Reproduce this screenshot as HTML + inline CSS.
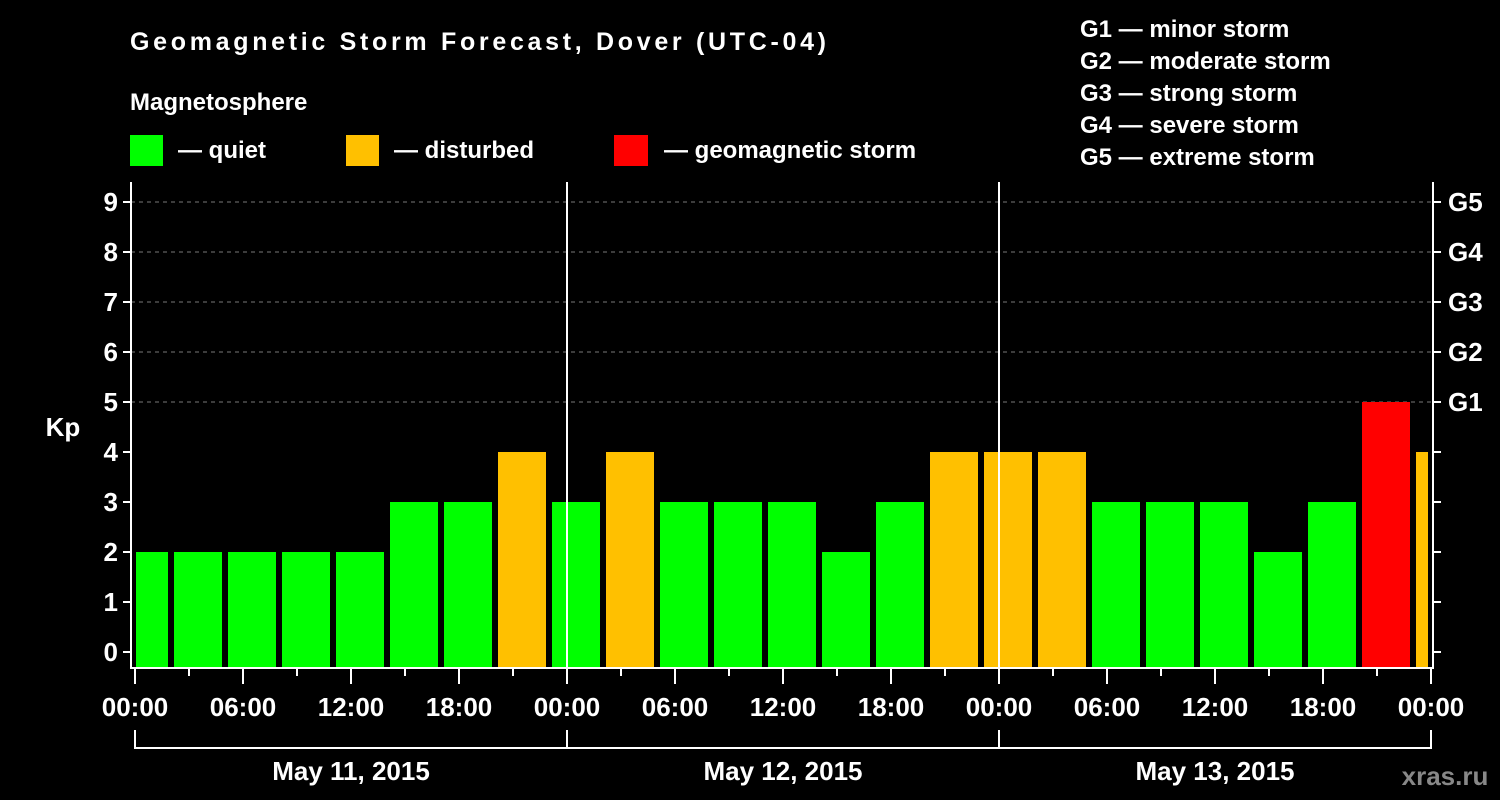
<!DOCTYPE html>
<html><head><meta charset="utf-8"><style>
html,body{margin:0;padding:0;background:#000;}
svg{display:block;font-family:"Liberation Sans",Arial,sans-serif;font-weight:bold;}
</style></head><body>
<svg id="chart" width="1500" height="800" viewBox="0 0 1500 800">
<rect width="1500" height="800" fill="#000"/>
<text x="130" y="50" fill="#fff" font-size="25" textLength="696">Geomagnetic Storm Forecast, Dover (UTC-04)</text>
<text x="130" y="110" fill="#fff" font-size="24">Magnetosphere</text>
<g><rect x="130" y="135" width="33" height="31" fill="#00ff00"/><text x="178" y="158" fill="#fff" font-size="24">— quiet</text></g>
<g><rect x="346" y="135" width="33" height="31" fill="#ffc000"/><text x="394" y="158" fill="#fff" font-size="24">— disturbed</text></g>
<g><rect x="614" y="135" width="34" height="31" fill="#ff0000"/><text x="664" y="158" fill="#fff" font-size="24">— geomagnetic storm</text></g>
<g fill="#fff" font-size="24">
<text x="1080" y="37">G1 — minor storm</text>
<text x="1080" y="69">G2 — moderate storm</text>
<text x="1080" y="101">G3 — strong storm</text>
<text x="1080" y="133">G4 — severe storm</text>
<text x="1080" y="165">G5 — extreme storm</text>
</g>
<text x="63" y="436" fill="#fff" font-size="26" text-anchor="middle">Kp</text>
<g id="grid"></g><g id="bars"></g><g id="axes"></g>
<text x="1445" y="785" fill="#888" font-size="26" text-anchor="middle">xras.ru</text>
</svg>
<script>
const kpValues = [2,2,2,2,2,3,3,4, 3,4,3,3,3,2,3,4, 4,4,3,3,3,2,3,5, 4];
const yTicks = [0,1,2,3,4,5,6,7,8,9];
const gLabels = ["G1","G2","G3","G4","G5"];
const timeLabels = ["00:00","06:00","12:00","18:00","00:00","06:00","12:00","18:00","00:00","06:00","12:00","18:00","00:00"];
const dayLabels = ["May 11, 2015","May 12, 2015","May 13, 2015"];

const NS="http://www.w3.org/2000/svg";
const X0=135, PXH=18, PL=131, PR=1433, PT=182, PB=668, CL=136, CR=1428;
const xH = h => X0 + h*PXH;
const yK = k => 652 - k*50;
function mk(tag, attrs, parent){const e=document.createElementNS(NS,tag);for(const k in attrs)e.setAttribute(k,attrs[k]);parent.appendChild(e);return e;}
const grid=document.getElementById('grid'), bars=document.getElementById('bars'), axes=document.getElementById('axes');

for(let k=5;k<=9;k++){
  const l=mk('line',{x1:PL,x2:PR,y1:yK(k),y2:yK(k),stroke:'#777','stroke-dasharray':'4,4','stroke-width':1},grid);
  
  
}
kpValues.forEach((v,i)=>{
  const c = xH(0.5+3*i);
  let x1=Math.max(c-24,CL), x2=Math.min(c+24,CR);
  const col = v>=5?'#ff0000':(v>=4?'#ffc000':'#00ff00');
  const r=mk('rect',{x:x1,y:yK(v),width:x2-x1,height:PB-yK(v),fill:col},bars);
  
  
});
// day separators
for(let d=1;d<=2;d++){
  const l=mk('line',{x1:xH(24*d),x2:xH(24*d),y1:PT,y2:PB,stroke:'#fff','stroke-width':2},axes);
  
  
}
const frame=mk('path',{d:`M${PL} ${PT}V${PB}H${PR}V${PT}`,stroke:'#fff','stroke-width':2,fill:'none'},axes);


yTicks.forEach(k=>{
  mk('line',{x1:PL-8,x2:PL,y1:yK(k),y2:yK(k),stroke:'#fff','stroke-width':2},axes);
  mk('line',{x1:PR,x2:PR+8,y1:yK(k),y2:yK(k),stroke:'#fff','stroke-width':2},axes);
  const t=mk('text',{x:PL-13,y:yK(k)+9,fill:'#fff','font-size':26,'text-anchor':'end'},axes);
  t.textContent=k;
  
  
});
gLabels.forEach((g,i)=>{
  const t=mk('text',{x:PR+15,y:yK(5+i)+9,fill:'#fff','font-size':26},axes);
  t.textContent=g;
  
  
});
for(let h=0;h<=72;h+=3){
  const major=h%6===0;
  mk('line',{x1:xH(h),x2:xH(h),y1:PB,y2:PB+(major?16:8),stroke:'#fff','stroke-width':2},axes);
}
timeLabels.forEach((s,i)=>{
  const t=mk('text',{x:xH(6*i),y:716,fill:'#fff','font-size':26,'text-anchor':'middle'},axes);
  t.textContent=s;
  
  
});
const br=mk('path',{d:`M${xH(0)} 730V748H${xH(72)}V730M${xH(24)} 748V730M${xH(48)} 748V730`,stroke:'#fff','stroke-width':2,fill:'none'},axes);


dayLabels.forEach((s,i)=>{
  const t=mk('text',{x:xH(24*i+12),y:780,fill:'#fff','font-size':26,'text-anchor':'middle'},axes);
  t.textContent=s;
  
  
});
</script>
</body></html>
